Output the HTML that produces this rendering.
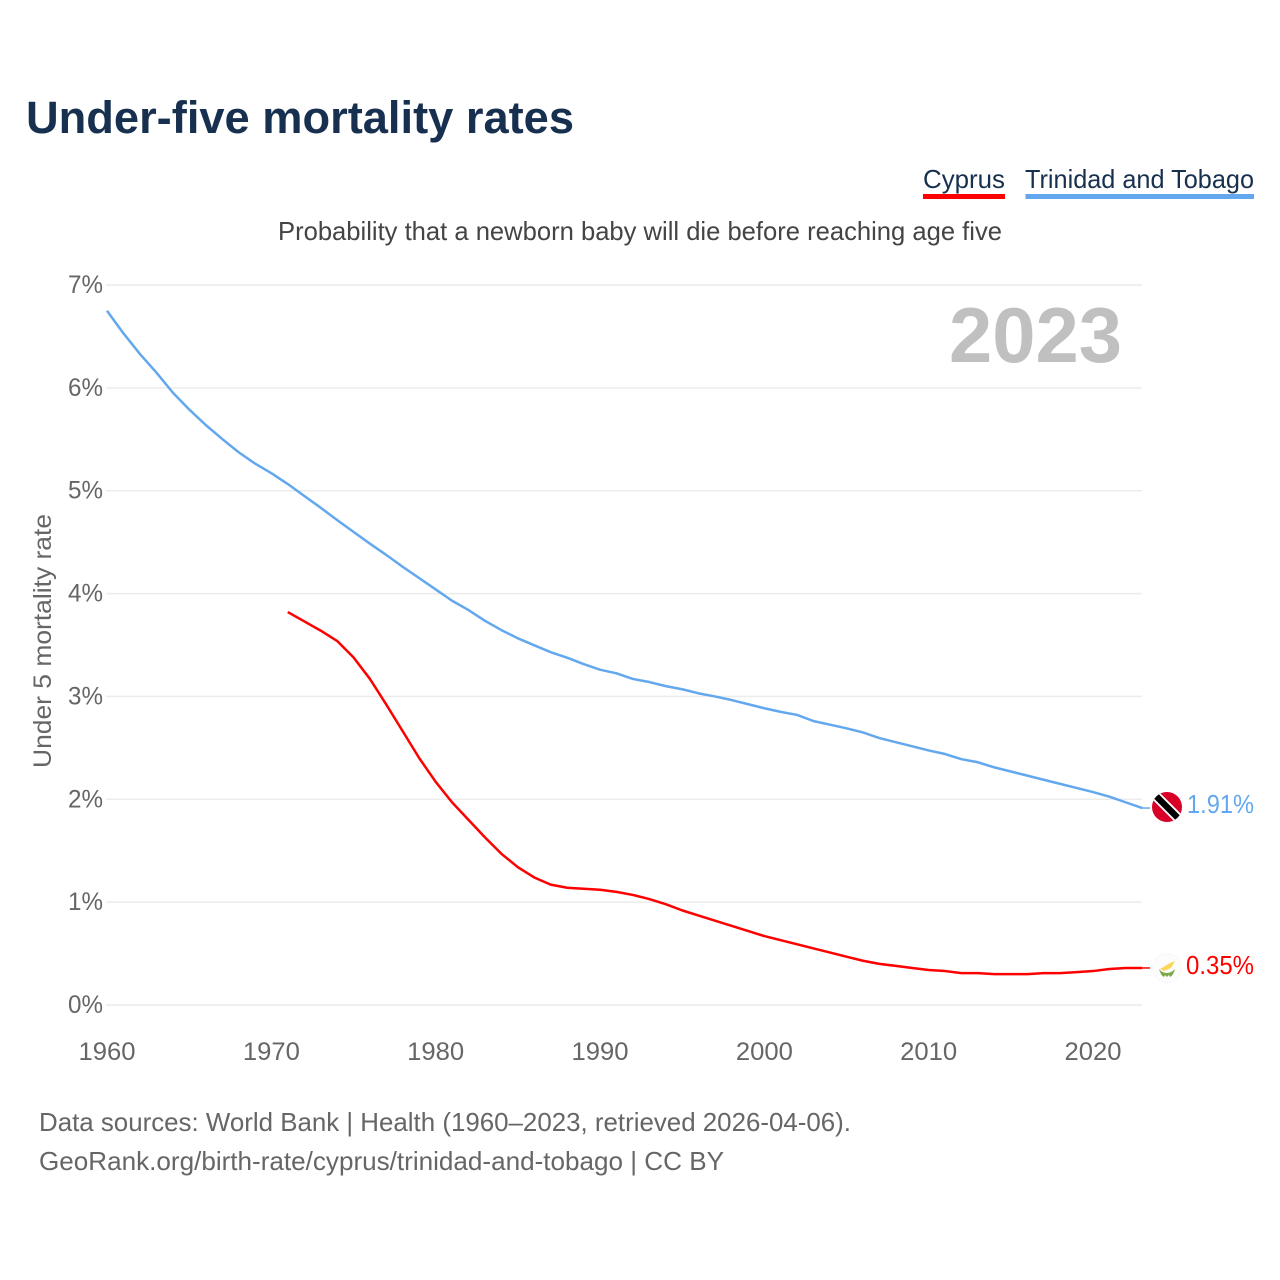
<!DOCTYPE html>
<html lang="en">
<head>
<meta charset="utf-8">
<title>Under-five mortality rates</title>
<style>
html,body{margin:0;padding:0;background:#fff;width:1280px;height:1280px;overflow:hidden}
svg{display:block}
text{font-family:"Liberation Sans",sans-serif}
</style>
</head>
<body>
<svg id="chart" width="1280" height="1280" viewBox="0 0 1280 1280" xmlns="http://www.w3.org/2000/svg">
<rect width="1280" height="1280" fill="#fff"/>
<text x="26" y="133" font-size="45" font-weight="700" fill="#18304f" textLength="548" lengthAdjust="spacingAndGlyphs">Under-five mortality rates</text>
<text x="923" y="188" font-size="26" fill="#18304f" textLength="82" lengthAdjust="spacingAndGlyphs">Cyprus</text>
<rect x="923" y="194" width="82" height="5" fill="#ff0000"/>
<text x="1025" y="188" font-size="26" fill="#18304f" textLength="229" lengthAdjust="spacingAndGlyphs">Trinidad and Tobago</text>
<rect x="1025.500" y="194" width="228.500" height="5" fill="#63a8ee"/>
<text x="278" y="240" font-size="26" fill="#444" textLength="724" lengthAdjust="spacingAndGlyphs">Probability that a newborn baby will die before reaching age five</text>
<g id="grid"></g>
<g id="yticks"></g>
<g id="xticks"></g>
<text x="949" y="362" font-size="78" font-weight="700" fill="#c0c0c0" textLength="173" lengthAdjust="spacingAndGlyphs">2023</text>
<text transform="translate(51,641) rotate(-90)" text-anchor="middle" font-size="25" fill="#666" textLength="254" lengthAdjust="spacingAndGlyphs">Under 5 mortality rate</text>
<g id="series"></g>
<g>
<clipPath id="ttClip"><circle cx="1167" cy="807" r="15"/></clipPath>
<circle cx="1167" cy="807" r="15" fill="#d80027"/>
<g clip-path="url(#ttClip)" transform="rotate(45 1167 807)">
<rect x="1147" y="802" width="40" height="10" fill="#fff"/>
<rect x="1147" y="803.800" width="40" height="6.400" fill="#000"/>
</g>
</g>
<g>
<circle cx="1167" cy="968" r="14.500" fill="#fcfcfc" stroke="#f2f2f2" stroke-width="1" stroke-dasharray="1.500 1.500"/>
<path d="M1160 969 L1170 963 L1175 961 L1171 968 L1164 971 Z" fill="#fbd65a"/>
<path d="M1159 969 Q1161 976 1164 977 L1165 975 L1167 977 L1169 975 L1170 977 Q1173 976 1175 969 Q1171 973 1167 973 Q1162 973 1159 969 Z" fill="#7da848"/>
</g>
<text x="1187" y="813" font-size="26" fill="#63a8ee" textLength="67" lengthAdjust="spacingAndGlyphs">1.91%</text>
<text x="1186" y="974" font-size="26" fill="#ff0000" textLength="68" lengthAdjust="spacingAndGlyphs">0.35%</text>
<text x="39" y="1131" font-size="26" fill="#666" textLength="812" lengthAdjust="spacingAndGlyphs">Data sources: World Bank | Health (1960–2023, retrieved 2026-04-06).</text>
<text x="39" y="1170" font-size="26" fill="#666" textLength="685" lengthAdjust="spacingAndGlyphs">GeoRank.org/birth-rate/cyprus/trinidad-and-tobago | CC BY</text>
</svg>
<script>
const yTickValues = [0, 1, 2, 3, 4, 5, 6, 7];
const xTickValues = [1960, 1970, 1980, 1990, 2000, 2010, 2020];
const trinidadStartYear = 1960;
const trinidadValues = [6.75, 6.53, 6.33, 6.15, 5.955, 5.79, 5.64, 5.505, 5.375, 5.265, 5.17, 5.065, 4.95, 4.835, 4.715, 4.60, 4.485, 4.375, 4.26, 4.15, 4.04, 3.93, 3.84, 3.735, 3.645, 3.565, 3.497, 3.43, 3.377, 3.315, 3.26, 3.225, 3.17, 3.14, 3.10, 3.07, 3.03, 3.00, 2.965, 2.925, 2.885, 2.85, 2.82, 2.76, 2.725, 2.69, 2.65, 2.595, 2.555, 2.515, 2.475, 2.44, 2.39, 2.36, 2.31, 2.27, 2.23, 2.19, 2.15, 2.11, 2.07, 2.025, 1.97, 1.915];
const cyprusStartYear = 1971;
const cyprusValues = [3.82, 3.73, 3.64, 3.54, 3.38, 3.17, 2.92, 2.66, 2.40, 2.17, 1.97, 1.80, 1.63, 1.47, 1.34, 1.24, 1.17, 1.14, 1.13, 1.12, 1.10, 1.07, 1.03, 0.98, 0.92, 0.87, 0.82, 0.77, 0.72, 0.67, 0.63, 0.59, 0.55, 0.51, 0.47, 0.43, 0.40, 0.38, 0.36, 0.34, 0.33, 0.31, 0.31, 0.30, 0.30, 0.30, 0.31, 0.31, 0.32, 0.33, 0.35, 0.36, 0.36];

const NS = 'http://www.w3.org/2000/svg';
function xScale(year) { return 107 + (year - 1960) * (1093 - 107) / 60; }
function yScale(value) { return 1005 - value * 720 / 7; }

const grid = document.getElementById('grid');
const yticks = document.getElementById('yticks');
yTickValues.forEach(function (v) {
  const line = document.createElementNS(NS, 'line');
  
  
  line.setAttribute('x1', 106);
  line.setAttribute('x2', 1142);
  line.setAttribute('y1', yScale(v));
  line.setAttribute('y2', yScale(v));
  line.setAttribute('stroke', '#ececec');
  line.setAttribute('stroke-width', 1.5);
  grid.appendChild(line);
  const t = document.createElementNS(NS, 'text');
  
  
  t.setAttribute('x', 68);
  t.setAttribute('y', yScale(v) + 8);
  t.setAttribute('font-size', 25);
  t.setAttribute('fill', '#666');
  t.setAttribute('textLength', 35);
  t.setAttribute('lengthAdjust', 'spacingAndGlyphs');
  t.textContent = v + '%';
  yticks.appendChild(t);
});

const xticks = document.getElementById('xticks');
xTickValues.forEach(function (y) {
  const t = document.createElementNS(NS, 'text');
  
  
  t.setAttribute('x', xScale(y));
  t.setAttribute('y', 1060);
  t.setAttribute('font-size', 25);
  t.setAttribute('fill', '#666');
  t.setAttribute('text-anchor', 'middle');
  t.setAttribute('textLength', 57);
  t.setAttribute('lengthAdjust', 'spacingAndGlyphs');
  t.textContent = y;
  xticks.appendChild(t);
});

function buildPoints(startYear, values) {
  return values.map(function (v, i) {
    return xScale(startYear + i).toFixed(2) + ',' + yScale(v).toFixed(2);
  }).join(' ');
}

const seriesGroup = document.getElementById('series');

const trinidadLine = document.createElementNS(NS, 'polyline');


trinidadLine.setAttribute('points', buildPoints(trinidadStartYear, trinidadValues));
trinidadLine.setAttribute('fill', 'none');
trinidadLine.setAttribute('stroke', '#63a8ee');
trinidadLine.setAttribute('stroke-width', 2.5);
trinidadLine.setAttribute('stroke-linejoin', 'round');
seriesGroup.appendChild(trinidadLine);

const trinidadConnector = document.createElementNS(NS, 'line');


trinidadConnector.setAttribute('x1', xScale(trinidadStartYear + trinidadValues.length - 1));
trinidadConnector.setAttribute('x2', 1150);
trinidadConnector.setAttribute('y1', yScale(trinidadValues[trinidadValues.length - 1]));
trinidadConnector.setAttribute('y2', yScale(trinidadValues[trinidadValues.length - 1]));
trinidadConnector.setAttribute('stroke', '#63a8ee');
trinidadConnector.setAttribute('stroke-width', 1.5);
seriesGroup.appendChild(trinidadConnector);

const cyprusLine = document.createElementNS(NS, 'polyline');


cyprusLine.setAttribute('points', buildPoints(cyprusStartYear, cyprusValues));
cyprusLine.setAttribute('fill', 'none');
cyprusLine.setAttribute('stroke', '#ff0000');
cyprusLine.setAttribute('stroke-width', 2.5);
cyprusLine.setAttribute('stroke-linejoin', 'round');
seriesGroup.appendChild(cyprusLine);

const cyprusConnector = document.createElementNS(NS, 'line');


cyprusConnector.setAttribute('x1', xScale(cyprusStartYear + cyprusValues.length - 1));
cyprusConnector.setAttribute('x2', 1150);
cyprusConnector.setAttribute('y1', yScale(cyprusValues[cyprusValues.length - 1]));
cyprusConnector.setAttribute('y2', yScale(cyprusValues[cyprusValues.length - 1]));
cyprusConnector.setAttribute('stroke', '#ff0000');
cyprusConnector.setAttribute('stroke-width', 1.5);
seriesGroup.appendChild(cyprusConnector);
</script>
</body>
</html>
